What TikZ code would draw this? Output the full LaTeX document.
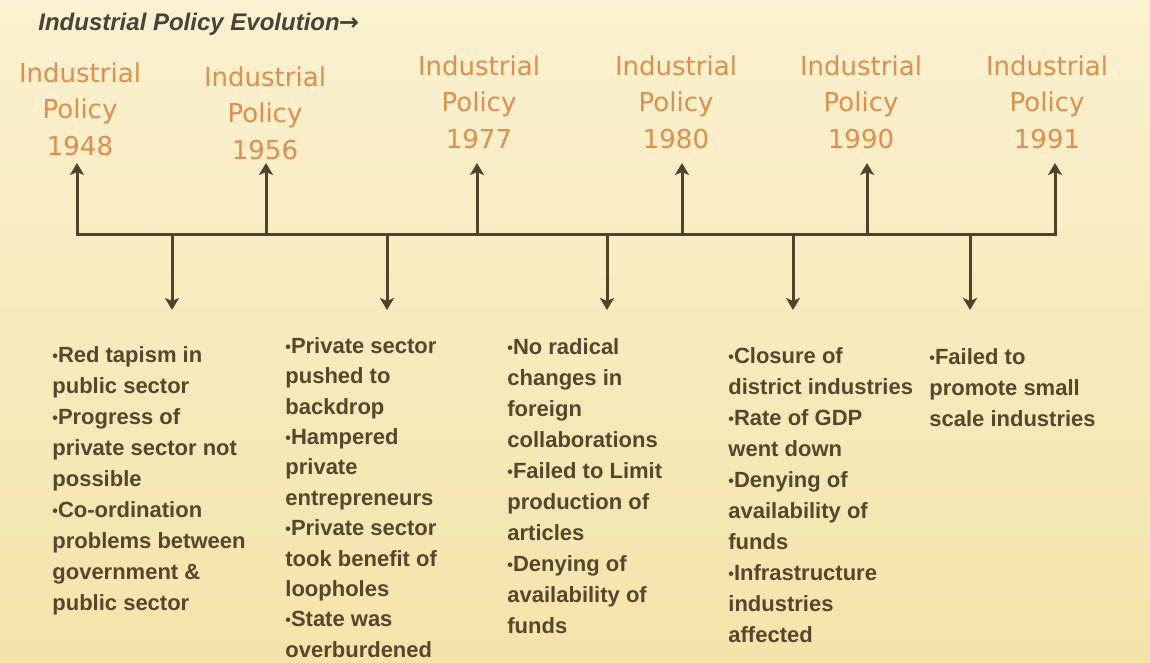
\documentclass[tikz,border=0pt]{standalone}
\usepackage{fontspec}
\setmainfont{Liberation Sans}
\newfontfamily\headfont{DejaVu Sans}
\usetikzlibrary{arrows.meta,positioning}

\definecolor{bgtop}{RGB}{250,241,208}
\definecolor{bgbot}{RGB}{244,228,170}
\definecolor{headorange}{RGB}{226,142,74}
\definecolor{inkbrown}{RGB}{88,70,44}
\definecolor{linebrown}{RGB}{82,66,44}
\definecolor{titlegray}{RGB}{72,66,56}

\newcommand\bul{\raisebox{0.6pt}{\fontsize{8}{8}\selectfont\textbullet}}

\tikzset{
  %% Policy heading above the time line
  head/.style={
    align=center, inner sep=0pt, anchor=north,
    text=headorange, font=\headfont\fontsize{13}{18.25}\selectfont
  },
  %% Bullet notes below the time line
  note/.style={
    align=left, inner sep=0pt, anchor=north west,
    text=inkbrown, font=\bfseries\fontsize{11}{15.5}\selectfont
  },
  %% Time line
  axis/.style={draw=linebrown, line width=1.5pt, line cap=rect},
  %% Arrow
  arr/.style={-{Stealth[length=6pt,width=7pt,inset=1.5pt]},
              draw=linebrown, line width=1.5pt},
}

\begin{document}
\begin{tikzpicture}[x=0.5pt, y=-0.5pt]

  \useasboundingbox (0,0) rectangle (1150,663);
  \fill[top color=bgtop, bottom color=bgbot] (0,0) rectangle (1150,663);

  %% Title
  \node[anchor=base west, inner sep=0pt, text=titlegray,
        font=\bfseries\itshape\fontsize{12}{14}\selectfont] (title)
        at (38,31) {Industrial Policy Evolution{\headfont\bfseries\upshape\kern-0.5pt→}};

  %% Headings
  \node[head] (p1948) at (80,62)   {Industrial\\Policy\\1948};
  \node[head] (p1956) at (265,66)  {Industrial\\Policy\\1956};
  \node[head] (p1977) at (479,55)  {Industrial\\Policy\\1977};
  \node[head] (p1980) at (676,55)  {Industrial\\Policy\\1980};
  \node[head] (p1990) at (861,55)  {Industrial\\Policy\\1990};
  \node[head] (p1991) at (1047,55) {Industrial\\Policy\\1991};

  %% Time line
  \coordinate (ax0) at (77,235);
  \coordinate (ax1) at (1055,235);
  \draw[axis] (ax0) -- (ax1);

  %% Up arrows to the headings
  \foreach \x/\n in {77/1948, 266/1956, 477/1977, 682/1980, 867/1990, 1055/1991}{
    \coordinate (b\n) at (\x,235);
    \coordinate (t\n) at (\x,163);
    \draw[arr] (b\n) -- (t\n);
  }

  %% Down arrows to the notes
  \foreach \x [count=\i] in {172,387,607,793,970}{
    \coordinate (a\i) at (\x,235);
    \coordinate (d\i) at (\x,310);
    \draw[arr] (a\i) -- (d\i);
  }

  %% Notes
  \node[note] (n1) at (52,346)
        {\bul Red tapism in\\public sector\\\bul Progress of\\private sector not\\possible\\
         \bul Co-ordination\\problems between\\government \&\\public sector};
  \node[note, font=\bfseries\fontsize{11}{15.2}\selectfont] (n2) at (285,337)
        {\bul Private sector\\pushed to\\backdrop\\\bul Hampered\\private\\entrepreneurs\\
         \bul Private sector\\took benefit of\\loopholes\\\bul State was\\overburdened};
  \node[note] (n3) at (507,338)
        {\bul No radical\\changes in\\foreign\\collaborations\\\bul Failed to Limit\\
         production of\\articles\\\bul Denying of\\availability of\\funds};
  \node[note] (n4) at (728,347)
        {\bul Closure of\\district industries\\\bul Rate of GDP\\went down\\\bul Denying of\\
         availability of\\funds\\\bul Infrastructure\\industries\\affected};
  \node[note] (n5) at (929,348)
        {\bul Failed to\\promote small\\scale industries};

\end{tikzpicture}
\end{document}
